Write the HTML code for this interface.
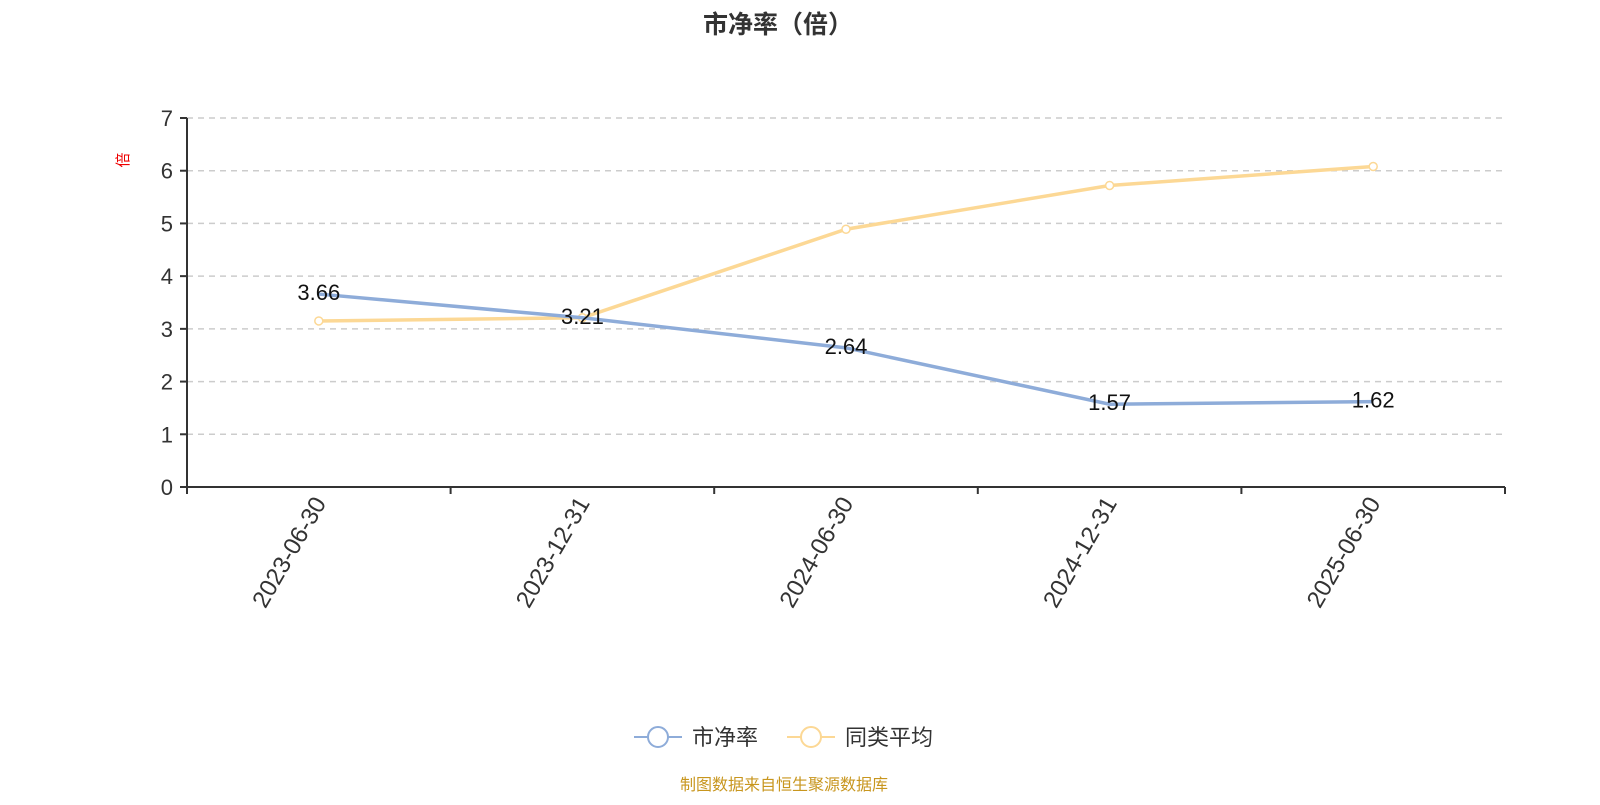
<!DOCTYPE html>
<html><head><meta charset="utf-8"><style>
body{margin:0;background:#fff;width:1600px;height:800px;overflow:hidden;font-family:"Liberation Sans","Noto Sans CJK SC",sans-serif}
</style></head><body>
<svg id="chart" width="1600" height="800" xmlns="http://www.w3.org/2000/svg" font-family="Liberation Sans, Noto Sans CJK SC, sans-serif">
<text x="778" y="33" text-anchor="middle" font-size="25" font-weight="bold" fill="#333">市净率（倍）</text>
<text transform="translate(128,160) rotate(-90)" text-anchor="middle" font-size="15" fill="#e00">倍</text>
<g id="grid"></g><g id="axes"></g><g id="series"></g>
<g>
<g><line x1="634" y1="737" x2="682" y2="737" stroke="#8eacd9" stroke-width="2"/><circle cx="658" cy="737" r="10" fill="#fff" stroke="#8eacd9" stroke-width="2"/><text x="692" y="745" font-size="22" fill="#333">市净率</text></g>
<g><line x1="787" y1="737" x2="835" y2="737" stroke="#fcd895" stroke-width="2"/><circle cx="811" cy="737" r="10" fill="#fff" stroke="#fcd895" stroke-width="2"/><text x="845" y="745" font-size="22" fill="#333">同类平均</text></g>
</g>
<text x="784" y="790" text-anchor="middle" font-size="16" fill="#c8961e">制图数据来自恒生聚源数据库</text>
</svg>
<script>
const categories=["2023-06-30","2023-12-31","2024-06-30","2024-12-31","2025-06-30"];
const pbValues=[3.66,3.21,2.64,1.57,1.62];
const avgValues=[3.15,3.21,4.89,5.72,6.08];
const yTicks=[0,1,2,3,4,5,6,7];
const NS="http://www.w3.org/2000/svg";
const L=187,R=1505,T=118,B=487,yMax=7;
const bw=(R-L)/categories.length;
const x=i=>L+bw*(i+0.5);
const y=v=>B-(v/yMax)*(B-T);
function mk(p,tag,a){const e=document.createElementNS(NS,tag);for(const k in a)e.setAttribute(k,a[k]);p.appendChild(e);return e;}
const grid=document.getElementById('grid'),axes=document.getElementById('axes'),ser=document.getElementById('series');
yTicks.forEach(t=>{
 if(t>0){const g=mk(grid,'line',{x1:L,x2:R,y1:y(t),y2:y(t),stroke:'#ccc','stroke-dasharray':'6,5','stroke-width':1.5});
 
 }
 const tk=mk(axes,'line',{x1:L-7,x2:L,y1:y(t),y2:y(t),stroke:'#333','stroke-width':2});
 
 
 const lb=mk(axes,'text',{x:L-14,y:y(t)+8,'text-anchor':'end','font-size':22,fill:'#333'});lb.textContent=t;
 
 
});
const ya=mk(axes,'line',{x1:L,x2:L,y1:T,y2:B,stroke:'#333','stroke-width':2});


const xa=mk(axes,'line',{x1:L,x2:R,y1:B,y2:B,stroke:'#333','stroke-width':2});


for(let i=0;i<=categories.length;i++){const tk=mk(axes,'line',{x1:L+bw*i,x2:L+bw*i,y1:B,y2:B+7,stroke:'#333','stroke-width':2});
 
 }
categories.forEach((c,i)=>{const t=mk(axes,'text',{transform:`translate(${x(i)+8},${B+16}) rotate(-60)`,'text-anchor':'end','font-size':24,fill:'#333'});t.textContent=c;
 
 });
function line(vals,color,name,markers){
 const p=mk(ser,'polyline',{points:vals.map((v,i)=>x(i)+','+y(v)).join(' '),fill:'none',stroke:color,'stroke-width':3.5});
 
 
 if(markers)vals.forEach((v,i)=>{const c=mk(ser,'circle',{cx:x(i),cy:y(v),r:4,fill:'#fff',stroke:color,'stroke-width':1.5});
  
  });
}
line(avgValues,'#fcd895','peer-average',true);
line(pbValues,'#8eacd9','pb',false);
pbValues.forEach((v,i)=>{const t=mk(ser,'text',{x:x(i),y:y(v)+6,'text-anchor':'middle','font-size':22,fill:'#111'});t.textContent=v.toFixed(2);
 
 });
</script>
</body></html>
